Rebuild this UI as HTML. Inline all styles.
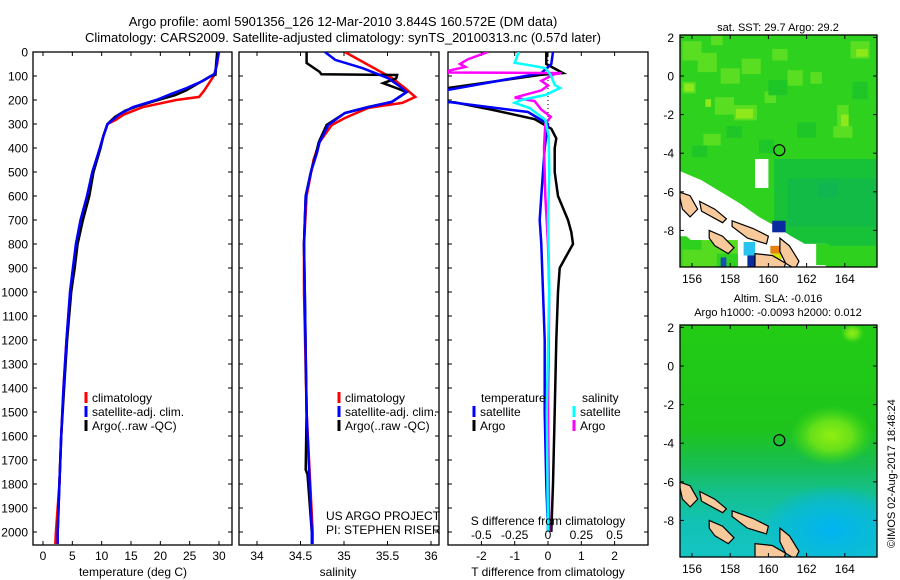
<!DOCTYPE html>
<html><head><meta charset="utf-8"><style>
html,body{margin:0;padding:0;background:#fff;}
svg{display:block;font-family:"Liberation Sans",sans-serif;}
</style></head><body>
<svg id="c" width="900" height="580" viewBox="0 0 900 580" xmlns="http://www.w3.org/2000/svg">
<text x="343" y="26" font-size="13" text-anchor="middle">Argo profile: aoml 5901356_126 12-Mar-2010 3.844S 160.572E (DM data)</text>
<text x="343" y="42" font-size="13" text-anchor="middle">Climatology: CARS2009. Satellite-adjusted climatology: synTS_20100313.nc (0.57d later)</text>
<g id="layer"></g>
</svg>
<script>
// ---- depth axis ----
const depthTicks=[0,100,200,300,400,500,600,700,800,900,1000,1100,1200,1300,1400,1500,1600,1700,1800,1900,2000];
// ---- temperature panel ----
const tTicks=[0,5,10,15,20,25,30];
const climTDepth=[0,50,100,130,160,187,200,230,260,283,300,350,400,500,600,700,800,900,1000,1200,1400,1600,1800,2000,2050];
const climT=[29.9,29.7,29.1,28.3,27.5,26.6,22.7,17.0,13.8,12.4,11.0,10.3,9.7,8.5,7.7,6.5,5.7,5.2,4.65,4.0,3.5,3.1,2.8,2.2,2.1];
const satTDepth=[0,50,90,120,150,175,200,230,260,283,300,350,400,500,600,700,800,900,1000,1200,1400,1600,1800,2000,2050];
const satT=[30.0,29.6,29.3,27.3,24.5,21.8,19.3,15.3,13.0,11.9,11.0,10.3,9.7,8.4,7.5,6.4,5.6,5.1,4.6,4.0,3.5,3.1,2.8,2.5,2.5];
const argoTDepth=[0,50,95,100,130,160,180,200,225,245,270,300,350,400,500,600,700,800,900,1000,1200,1400,1600,1800,2000];
const argoT=[29.7,29.5,29.4,28.6,26.5,24.4,22.5,19.6,16.2,14.0,12.3,11.0,10.3,9.8,8.6,7.9,6.8,5.9,5.4,4.8,4.1,3.6,3.1,2.8,2.5];
// ---- salinity panel ----
const sTicks=[34,34.5,35,35.5,36];
const climSDepth=[0,54,108,150,187,212,233,275,304,375,450,600,800,1000,1500,2000,2050];
const climS=[35.01,35.28,35.55,35.70,35.82,35.67,35.28,35.01,34.86,34.72,34.65,34.57,34.54,34.54,34.57,34.64,34.64];
const satSDepth=[0,33,67,108,140,167,208,229,254,304,375,420,500,600,800,1000,1500,2000,2050];
const satS=[34.78,34.90,35.21,35.50,35.63,35.72,35.55,35.28,35.01,34.82,34.72,34.69,34.62,34.56,34.54,34.55,34.57,34.63,34.63];
const argoSDepth=[0,46,83,93,96,110,130,150,167,208,229,254,304,375,420,500,600,800,1000,1500,1740,1760,2000];
const argoS=[34.57,34.57,34.72,34.74,35.61,35.60,35.45,35.60,35.72,35.55,35.28,35.01,34.80,34.71,34.68,34.62,34.56,34.54,34.55,34.57,34.56,34.58,34.63];
// ---- difference panel ----
const dTTicks=[-2,-1,0,1,2];
const dSTicks=[-0.5,-0.25,0,0.25,0.5];
const dSTickLabels=["-0.5","-0.25","0","0.25","0.5"];
const dSatTDepth=[0,50,88,158,170,200,208,250,300,350,400,500,600,700,800,1000,1200,1500,1800,2000];
const dSatT=[0.15,0.1,-0.2,-3.0,-4.0,-4.0,-3.0,-0.6,0,-0.05,-0.1,-0.15,-0.2,-0.25,-0.2,-0.15,-0.1,-0.1,-0.05,0];
const dArgoTDepth=[0,50,88,95,150,170,200,210,240,280,320,360,400,500,600,700,750,800,850,900,1000,1200,1500,1800,2000];
const dArgoT=[-0.05,-0.05,0.45,-0.2,-3.0,-4.0,-4.0,-2.8,-1.7,-0.4,0.1,0.25,0.2,0.2,0.3,0.6,0.7,0.75,0.55,0.35,0.3,0.25,0.2,0.15,0.1];
const dSatSDepth=[0,45,55,67,96,137,150,179,200,212,233,283,350,500,700,1000,1500,2000];
const dSatS=[-0.22,-0.25,-0.14,-0.02,0.02,0.05,0.09,-0.02,-0.2,-0.25,-0.14,-0.02,0.005,0.01,0.0,0.01,-0.01,0.0];
const dArgoSDepth=[0,30,50,62,85,88,92,120,140,160,190,205,240,270,300,400,600,800,1000,1500,2000];
const dArgoS=[-0.45,-0.6,-0.66,-0.62,-0.8,0.1,0.05,-0.05,0.0,-0.05,-0.25,-0.1,-0.05,0.02,-0.02,-0.03,-0.02,0.0,0.01,0.0,0.01];

const NS="http://www.w3.org/2000/svg";
const layer=document.getElementById('layer');
function el(tag,attrs,parent){const e=document.createElementNS(NS,tag);for(const k in attrs)e.setAttribute(k,attrs[k]);(parent||layer).appendChild(e);return e;}
const yTop=52, pxPer100=24, yBot=545;
function yD(d){return yTop+d*pxPer100/100;}
const panels=[{x0:33,x1:232},{x0:239,x1:439},{x0:448,x1:648}];
function xT(v){return 43+v*(219-43)/30;}
function xS(v){return 257+(v-34)*(431-257)/2;}
function xDT(v){return 548+v*33.3;}
function xDS(v){return 548+v*133.3;}

const defs=el('defs',{});
panels.forEach((p,i)=>{const cp=el('clipPath',{id:'clip'+i},defs);el('rect',{x:p.x0,y:yTop,width:p.x1-p.x0,height:yBot-yTop},cp);});

function series(xs,ds,xf,color,clip,name,w){
  let pts=xs.map((v,i)=>xf(v).toFixed(1)+','+yD(ds[i]).toFixed(1)).join(' ');
  const pl=el('polyline',{points:pts,fill:'none',stroke:color,'stroke-width':w||2.5,'clip-path':'url(#clip'+clip+')'});
  
  
}
function txt(x,y,s,opts){const t=el('text',Object.assign({x:x,y:y,'font-size':12},opts||{}));t.textContent=s;return t;}

panels.forEach((p,i)=>{
  const r=el('rect',{x:p.x0,y:yTop,width:p.x1-p.x0,height:yBot-yTop,fill:'none',stroke:'#000','stroke-width':1.3});
  
  
  depthTicks.forEach(d=>{
    el('line',{x1:p.x0,x2:p.x0+4,y1:yD(d),y2:yD(d),stroke:'#000'});
    el('line',{x1:p.x1-4,x2:p.x1,y1:yD(d),y2:yD(d),stroke:'#000'});
  });
});
depthTicks.forEach(d=>{
  const t=txt(28,yD(d)+4.5,String(d),{'text-anchor':'end'});
  
  
});
function xTicks(p,ticks,xf,labels,ly){
  ticks.forEach((v,i)=>{
    const x=xf(v);
    el('line',{x1:x,x2:x,y1:yTop,y2:yTop+4,stroke:'#000'});
    el('line',{x1:x,x2:x,y1:yBot-4,y2:yBot,stroke:'#000'});
    const t=txt(x,ly,labels?labels[i]:String(v),{'text-anchor':'middle'});
    
    
  });
}
xTicks(panels[0],tTicks,xT,null,560);
xTicks(panels[1],sTicks,xS,null,560);
xTicks(panels[2],dTTicks,xDT,null,560);
let a=txt(133,576,'temperature (deg C)',{'text-anchor':'middle'});
a=txt(338,576,'salinity',{'text-anchor':'middle'});
a=txt(548,576,'T difference from climatology',{'text-anchor':'middle'});
el('line',{x1:548,x2:548,y1:yTop,y2:yD(350),stroke:'#000','stroke-dasharray':'1,3'});

series(climT,climTDepth,xT,'#ff0000',0,'temp-climatology-line');
series(argoT,argoTDepth,xT,'#000000',0,'temp-argo-line');
series(satT,satTDepth,xT,'#0000ff',0,'temp-satellite-line');
series(climS,climSDepth,xS,'#ff0000',1,'sal-climatology-line');
series(argoS,argoSDepth,xS,'#000000',1,'sal-argo-line');
series(satS,satSDepth,xS,'#0000ff',1,'sal-satellite-line');
series(dArgoT,dArgoTDepth,xDT,'#000000',2,'tdiff-argo-line');
series(dSatT,dSatTDepth,xDT,'#0000ff',2,'tdiff-satellite-line');
series(dArgoS,dArgoSDepth,xDS,'#ff00ff',2,'sdiff-argo-line');
series(dSatS,dSatSDepth,xDS,'#00ffff',2,'sdiff-satellite-line');

a=txt(548,525,'S difference from climatology',{'text-anchor':'middle'});
dSTicks.forEach((v,i)=>{const t=txt(xDS(v),539,dSTickLabels[i],{'text-anchor':'middle'});});

function leg(x,y,color,label,name){
  el('line',{x1:x,x2:x,y1:y-10,y2:y+1,stroke:color,'stroke-width':3});
  const t=txt(x+6,y,label);
}
leg(86,402,'#ff0000','climatology','legend-climatology');
leg(86,416,'#0000ff','satellite-adj. clim.','legend-satellite');
leg(86,430,'#000000','Argo(..raw -QC)','legend-argo');
leg(339,402,'#ff0000','climatology','legend-climatology-2');
leg(339,416,'#0000ff','satellite-adj. clim.','legend-satellite-2');
leg(339,430,'#000000','Argo(..raw -QC)','legend-argo-2');
a=txt(481,402,'temperature');
leg(474,416,'#0000ff','satellite','legend-tdiff-satellite');
leg(474,430,'#000000','Argo','legend-tdiff-argo');
a=txt(582,402,'salinity');
leg(574,416,'#00ffff','satellite','legend-sdiff-satellite');
leg(574,430,'#ff00ff','Argo','legend-sdiff-argo');
a=txt(326,520,'US ARGO PROJECT');
a=txt(326,534,'PI: STEPHEN RISER');

// ---- maps ----
const lonTicks=[156,158,160,162,164];
const latTicks=[2,0,-2,-4,-6,-8];
const floatLon=160.572, floatLat=-3.844;
const mapX0=680,mapX1=877;
function mx(lon){return 692+(lon-156)*19.1;}
function makeMap(y0,y1,lat0y,id,name){
  const my=lat=>lat0y-lat*19.3;
  const g=el('g',{});
  const cp=el('clipPath',{id:'mclip'+id},defs);el('rect',{x:mapX0,y:y0,width:mapX1-mapX0,height:y1-y0},cp);
  const inner=el('g',{'clip-path':'url(#mclip'+id+')'},g);
  return {g,inner,my,y0,y1};
}
function poly(m,coords,attrs,parent){
  const pts=coords.map(c=>mx(c[0]).toFixed(1)+','+m.my(c[1]).toFixed(1)).join(' ');
  return el('polygon',Object.assign({points:pts},attrs),parent||m.inner);
}
function box(m,l0,l1,a0,a1,fill){el('rect',{x:mx(l0),y:m.my(a0),width:mx(l1)-mx(l0),height:m.my(a1)-m.my(a0),fill:fill},m.inner);}
const islands=[
 [[155.3,-6.0],[155.9,-6.2],[156.3,-6.9],[155.9,-7.3],[155.5,-6.9]],
 [[156.4,-6.5],[157.2,-6.9],[157.8,-7.4],[157.6,-7.6],[156.5,-7.0]],
 [[158.1,-7.5],[159.2,-7.9],[160.0,-8.3],[159.9,-8.7],[158.9,-8.4],[158.1,-7.8]],
 [[156.9,-8.0],[157.6,-8.3],[158.2,-8.9],[157.9,-9.2],[157.2,-8.8],[156.9,-8.4]],
 [[160.6,-8.4],[161.1,-8.8],[161.6,-9.6],[161.4,-10],[160.9,-9.7],[160.6,-9.1]],
 [[159.3,-9.2],[160.2,-9.3],[160.9,-9.7],[160.8,-10],[159.3,-10]]
];
function drawIslands(m){islands.forEach(c=>poly(m,c,{fill:'#f7c99b',stroke:'#000','stroke-width':1.2}));}
function frame(m,name){
  const r=el('rect',{x:mapX0,y:m.y0,width:mapX1-mapX0,height:m.y1-m.y0,fill:'none',stroke:'#000','stroke-width':1.3},m.g);
  
  lonTicks.forEach(l=>{el('line',{x1:mx(l),x2:mx(l),y1:m.y0,y2:m.y0+4,stroke:'#000'},m.g);el('line',{x1:mx(l),x2:mx(l),y1:m.y1-4,y2:m.y1,stroke:'#000'},m.g);
    const t=txt(mx(l),m.y1+16,String(l),{'text-anchor':'middle'});});
  latTicks.forEach(l=>{const y=m.my(l);el('line',{x1:mapX0,x2:mapX0+4,y1:y,y2:y,stroke:'#000'},m.g);el('line',{x1:mapX1-4,x2:mapX1,y1:y,y2:y,stroke:'#000'},m.g);
    const t=txt(674,y+4.5,String(l),{'text-anchor':'end'});});
  const c=el('circle',{cx:mx(floatLon),cy:m.my(floatLat),r:5.5,fill:'none',stroke:'#000','stroke-width':1.2},m.g);
  
}
// map 1 (SST)
const m1=makeMap(35,267,76,1,'sst-map');
el('rect',{x:mapX0,y:35,width:197,height:232,fill:'#2ed21e'},m1.inner);
const lightPatches=[[155.5,156.5,1.8,0.8],[156.3,157.3,1.2,0.2],[157.5,158.5,0.4,-0.4],[155.5,156.2,-0.3,-0.9],[157.2,158.2,-1.1,-2.0],[158.2,159.4,-1.5,-2.3],[158.6,159.6,0.9,0.1],[160.2,161.0,1.4,0.8],[161.0,161.8,0.3,-0.5],[164.3,165.3,1.8,0.9],[163.6,164.2,-1.5,-2.7],[163.4,164.4,-2.6,-3.2],[156.6,157.5,-3.0,-3.6],[159.8,160.4,-0.8,-1.4],[162.2,162.8,0.2,-0.4],[157,157.6,2.2,1.6]];
lightPatches.forEach(b=>box(m1,b[0],b[1],b[2],b[3],'#5ade22'));
const yellowPatches=[[155.6,156.1,-0.4,-0.8],[158.3,159.2,-1.7,-2.2],[164.6,165.2,1.4,1.0],[163.8,164.2,-2.0,-2.6],[156.7,157.0,-1.2,-1.6]];
yellowPatches.forEach(b=>box(m1,b[0],b[1],b[2],b[3],'#8ee81a'));
const darkPatches=[[160.0,161.0,-0.2,-1.0],[161.5,162.5,-2.4,-3.2],[164.4,165.2,-0.3,-1.2],[159.5,160.3,-3.3,-4.0],[157.8,158.6,-2.6,-3.2],[156.0,156.8,-3.6,-4.2]];
darkPatches.forEach(b=>box(m1,b[0],b[1],b[2],b[3],'#1ec628'));
box(m1,160.3,165.8,-4.3,-8.8,'#18c238');
box(m1,161,165.8,-5.3,-7.8,'#12bb46');
box(m1,162.6,163.6,-5.5,-6.3,'#10b650');
poly(m1,[[155.3,-4.9],[156.5,-5.4],[157.5,-6.0],[158.5,-6.6],[159.5,-7.3],[160.4,-7.8],[161.2,-8.3],[161.9,-8.7],[163,-8.7],[163,-10.2],[158.4,-10.2],[158.4,-9.0],[156.3,-8.8],[155.7,-8.3],[155.3,-8.3]],{fill:'#ffffff'});
box(m1,155.5,158.4,-8.5,-10.2,'#55dc20');
box(m1,157.3,158.4,-9.2,-10.2,'#2ed21e');
box(m1,155.5,156.5,-8.5,-9.0,'#2ed21e');
box(m1,159.3,160.0,-4.3,-5.8,'#ffffff');
box(m1,160.2,160.9,-7.5,-8.1,'#0a2aa0');
box(m1,158.7,159.3,-8.6,-9.3,'#28c4f0');
box(m1,158.9,160.0,-9.3,-9.9,'#0a2aa0');
box(m1,157.5,157.8,-9.4,-9.9,'#1850b0');
box(m1,160.1,160.7,-8.8,-9.2,'#e88010');
box(m1,160.2,160.7,-9.2,-9.5,'#d8e000');
box(m1,162.5,163.2,-8.7,-9.8,'#2ed21e');
drawIslands(m1);
frame(m1,'sst-map');
a=txt(778,31,'sat. SST: 29.7 Argo: 29.2',{'text-anchor':'middle','font-size':11});
// map 2 (SLA)
const m2=makeMap(325,557,366,2,'sla-map');
const gr=el('linearGradient',{id:'slag',x1:0,y1:0,x2:0,y2:1},defs);
[[0,'#22cc14'],[0.45,'#1ec41c'],[0.6,'#18be50'],[0.72,'#14c08c'],[0.85,'#12c2b4'],[1,'#14c4c4']].forEach(s=>el('stop',{offset:s[0],'stop-color':s[1]},gr));
el('rect',{x:mapX0,y:325,width:197,height:232,fill:'url(#slag)'},m2.inner);
const rg=el('radialGradient',{id:'slab'},defs);
el('stop',{offset:0,'stop-color':'#00b4f4'},rg);el('stop',{offset:0.6,'stop-color':'#06b8e0','stop-opacity':0.7},rg);el('stop',{offset:1,'stop-color':'#00b4f4','stop-opacity':0},rg);
el('ellipse',{cx:mx(163.3),cy:m2.my(-8.5),rx:70,ry:45,fill:'url(#slab)'},m2.inner);
const rg2=el('radialGradient',{id:'slay'},defs);
el('stop',{offset:0,'stop-color':'#90ee10'},rg2);el('stop',{offset:0.5,'stop-color':'#66e01a'},rg2);el('stop',{offset:1,'stop-color':'#40d818','stop-opacity':0},rg2);
el('ellipse',{cx:mx(163.3),cy:m2.my(-3.6),rx:42,ry:30,fill:'url(#slay)'},m2.inner);
el('ellipse',{cx:mx(164.4),cy:m2.my(1.7),rx:12,ry:10,fill:'url(#slay)'},m2.inner);
drawIslands(m2);
frame(m2,'sla-map');
a=txt(778,302,'Altim. SLA: -0.016',{'text-anchor':'middle','font-size':11});
a=txt(778,316,'Argo h1000: -0.0093 h2000: 0.012',{'text-anchor':'middle','font-size':11});
a=txt(0,0,'©IMOS 02-Aug-2017 18:48:24',{'font-size':11,transform:'translate(895,548) rotate(-90)'});
</script>
</body></html>
